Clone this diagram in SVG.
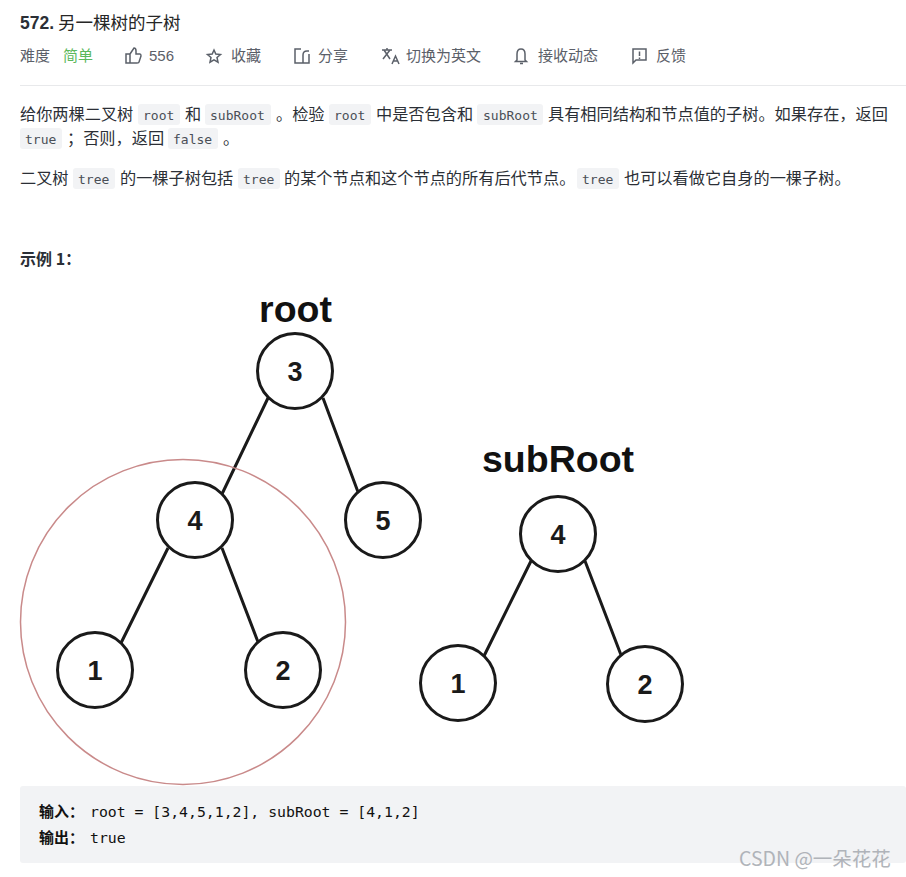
<svg xmlns="http://www.w3.org/2000/svg" width="906" height="877" viewBox="0 0 906 877">
<style>
text{font-family:"Noto Sans CJK SC","Liberation Sans",sans-serif;fill:#262626}
.t{font-size:16.200px;fill:#2b2f36}
.m{font-size:15px;fill:#5b6069}
.c{font-family:"DejaVu Sans Mono","Liberation Mono",monospace;font-size:13px;fill:#4a4f57}
.p{fill:#f2f3f5}
.i{fill:none;stroke:#5b6069;stroke-width:1.500}
.n{fill:#fff;stroke:#1a1a1a;stroke-width:3}
.e{stroke:#1a1a1a;stroke-width:3;fill:none}
.v{font-family:"Liberation Sans",Arial,sans-serif;font-weight:700;font-size:27px;fill:#1a1a1a;text-anchor:middle}
.l{font-family:"Liberation Sans",Arial,sans-serif;font-weight:700;font-size:37.500px;fill:#111;text-anchor:middle}
.o{font-family:"DejaVu Sans Mono","Liberation Mono",monospace;font-size:14.800px;fill:#111}
.b{font-size:15px;font-weight:700;fill:#111}
</style>
<rect width="906" height="877" fill="#fff"/>
<g id="header">
<text x="20" y="29" font-size="17.500" style="font-family:'Liberation Sans',sans-serif;font-weight:700;fill:#2b2f36">572.</text>
<text x="58" y="29" font-size="17.500" fill="#2b2f36">另一棵树的子树</text>
<text class="m" x="20" y="61">难度</text>
<text class="m" x="63" y="61" style="fill:#5cb85c">简单</text>
<path class="i" d="M126 54h4v9h-4zM130 54l4-6q2 0 2 3v3h4q1 0 1 2l-2 6q0 1-2 1h-7"/>
<text class="m" x="149" y="61" style="font-family:'Liberation Sans',sans-serif">556</text>
<path class="i" d="M214 50l1.800 4 4.700 .5-3.500 3 1 4.700-4-2.400-4 2.400 1-4.700-3.500-3 4.700-.5z"/>
<text class="m" x="231" y="61">收藏</text>
<path class="i" d="M301 49h-6v14h14v-9M303 63v-8q0-4 4-4h2"/>
<text class="m" x="318" y="61">分享</text>
<path d="M382 50h10M387 48v2M384 50l6 9M390 50l-7 9M392 64l3.500-8 3.500 8M393.500 61h4" class="i"/>
<text class="m" x="406" y="61">切换为英文</text>
<path class="i" d="M517 60v-6q0-5 4-5t4 5v6l1.500 1.500h-11zM520 63.500h3"/>
<text class="m" x="538" y="61">接收动态</text>
<path class="i" d="M633 49h13v11h-10l-3 3zM639.500 51.500v4.500M639.500 57.500v1.500"/>
<text class="m" x="656" y="61">反馈</text>
<line x1="20" y1="85.500" x2="906" y2="85.500" stroke="#e8e9eb"/>
</g>
<g id="description">
<rect class="p" x="138" y="104" width="42" height="21" rx="3"/><rect class="p" x="205" y="104" width="66" height="21" rx="3"/><rect class="p" x="329" y="104" width="42" height="21" rx="3"/><rect class="p" x="477" y="104" width="66" height="21" rx="3"/>
<rect class="p" x="20" y="128" width="42" height="21" rx="3"/><rect class="p" x="168" y="128" width="50" height="21" rx="3"/>
<rect class="p" x="73" y="168" width="42" height="21" rx="3"/><rect class="p" x="238" y="168" width="42" height="21" rx="3"/><rect class="p" x="577" y="168" width="42" height="21" rx="3"/>
<text class="t" x="20" y="120">给你两棵二叉树</text>
<text class="c" x="143" y="120">root</text>
<text class="t" x="185" y="120">和</text>
<text class="c" x="210" y="120">subRoot</text>
<text class="t" x="276" y="120">。检验</text>
<text class="c" x="334" y="120">root</text>
<text class="t" x="376" y="120">中是否包含和</text>
<text class="c" x="483" y="120">subRoot</text>
<text class="t" x="548" y="120">具有相同结构和节点值的子树。如果存在，返回</text>
<text class="c" x="25" y="144">true</text>
<text class="t" x="67" y="144">；否则，返回</text>
<text class="c" x="173" y="144">false</text>
<text class="t" x="223" y="144">。</text>
<text class="t" x="20" y="184">二叉树</text>
<text class="c" x="78" y="184">tree</text>
<text class="t" x="120" y="184">的一棵子树包括</text>
<text class="c" x="243" y="184">tree</text>
<text class="t" x="284" y="184">的某个节点和这个节点的所有后代节点。</text>
<text class="c" x="582" y="184">tree</text>
<text class="t" x="624" y="184">也可以看做它自身的一棵子树。</text>
<text x="20" y="265" style="font-size:16px;font-weight:700;fill:#2b2f36">示例 1：</text>
</g>
<g id="connectors">
<path class="e" d="M268 398L222 494M323 398L358 492M168 548L121 643M222 548L258 642M531 561L484 656M585 561L621 655"/>
</g>
<g id="highlight"><circle cx="183" cy="622" r="162.500" fill="none" stroke="#c98a8a" stroke-width="1.500"/></g>
<text class="l" x="295.500" y="322">root</text>
<text class="l" x="558" y="472">subRoot</text>
<g id="n3"><circle class="n" cx="295" cy="371" r="37.500"/><text class="v" x="295" y="381">3</text></g>
<g id="n4"><circle class="n" cx="195" cy="520" r="37.500"/><text class="v" x="195" y="530">4</text></g>
<g id="n5"><circle class="n" cx="383" cy="520" r="37.500"/><text class="v" x="383" y="530">5</text></g>
<g id="n1"><circle class="n" cx="95" cy="670" r="37.500"/><text class="v" x="95" y="680">1</text></g>
<g id="n2"><circle class="n" cx="283" cy="670" r="37.500"/><text class="v" x="283" y="680">2</text></g>
<g id="s4"><circle class="n" cx="558" cy="534" r="37.500"/><text class="v" x="558" y="544">4</text></g>
<g id="s1"><circle class="n" cx="458" cy="683" r="37.500"/><text class="v" x="458" y="693">1</text></g>
<g id="s2"><circle class="n" cx="645" cy="684" r="37.500"/><text class="v" x="645" y="694">2</text></g>
<g id="example">
<rect x="20" y="786" width="886" height="77" rx="3" fill="#f2f3f5"/>
<text class="b" x="39" y="817">输入：</text>
<text class="o" x="90" y="817">root = [3,4,5,1,2], subRoot = [4,1,2]</text>
<text class="b" x="39" y="843">输出：</text>
<text class="o" x="90" y="843">true</text>
</g>
<text x="739" y="866" style="font-size:19.500px;fill:#a9adb3;opacity:.9">CSDN @一朵花花</text>
</svg>
